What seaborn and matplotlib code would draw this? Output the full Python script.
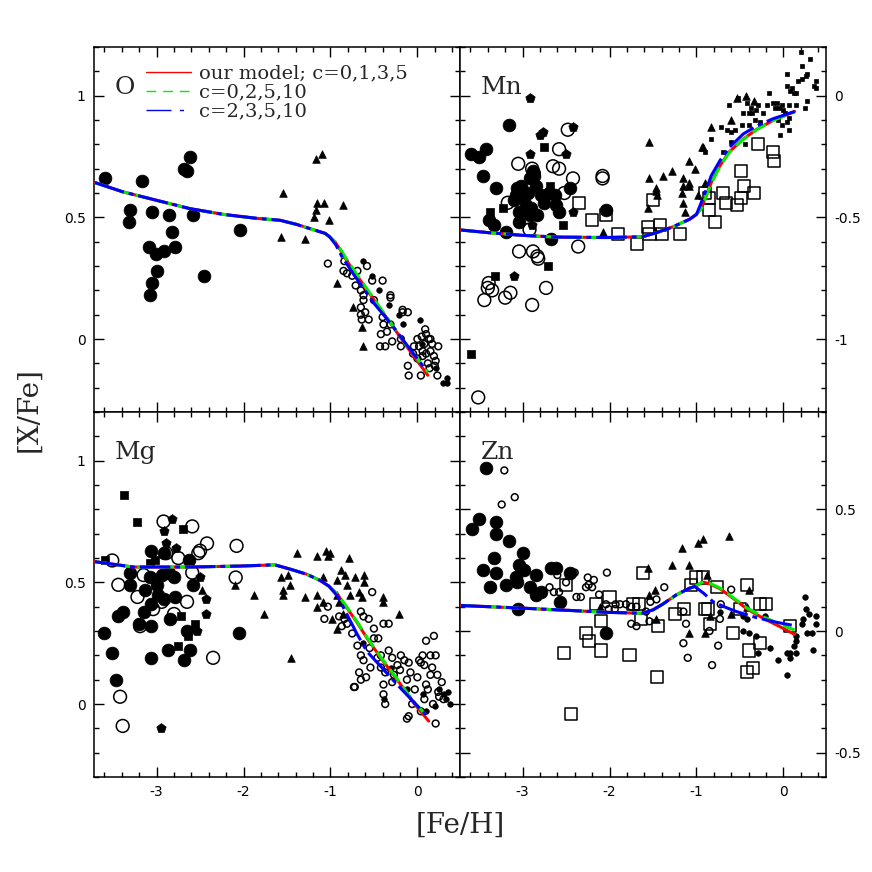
import matplotlib
matplotlib.use("Agg")
import matplotlib.pyplot as plt
import seaborn as sns
from matplotlib.lines import Line2D
from matplotlib.ticker import MultipleLocator, FormatStrFormatter

# ---------------- data ----------------
# x = [Fe/H], y = [X/Fe]

# ---- O ----
o_big_fill = [(-3.59, 0.66), (-3.17, 0.65), (-3.31, 0.53), (-3.32, 0.48), (-3.05, 0.52),
              (-2.86, 0.51), (-2.82, 0.44), (-3.09, 0.38), (-3.01, 0.35), (-2.91, 0.36),
              (-2.79, 0.38), (-2.99, 0.28), (-3.05, 0.23), (-3.08, 0.18), (-2.68, 0.70),
              (-2.65, 0.69), (-2.62, 0.75), (-2.58, 0.51), (-2.46, 0.26), (-2.04, 0.45)]
o_tri = [(-1.55, 0.60), (-1.57, 0.42), (-1.29, 0.41), (-1.17, 0.74), (-1.10, 0.76),
         (-1.15, 0.56), (-1.07, 0.56), (-1.17, 0.53), (-1.19, 0.50), (-1.02, 0.49),
         (-0.85, 0.55), (-0.92, 0.23), (-0.74, 0.13), (-0.64, 0.05), (-0.63, -0.03)]
o_small_open = [(-1.03, 0.31), (-0.84, 0.32), (-0.85, 0.28), (-0.81, 0.27), (-0.75, 0.26),
                (-0.58, 0.30), (-0.69, 0.28), (-0.52, 0.24), (-0.40, 0.24), (-0.71, 0.22),
                (-0.65, 0.20), (-0.62, 0.18), (-0.62, 0.16), (-0.31, 0.18), (-0.50, 0.16),
                (-0.65, 0.13), (-0.60, 0.11), (-0.65, 0.10), (-0.56, 0.08), (-0.64, 0.08),
                (-0.40, 0.09), (-0.39, 0.06), (-0.31, 0.06), (-0.42, 0.02), (-0.35, 0.03),
                (-0.29, -0.01), (-0.43, -0.03), (-0.37, -0.03), (-0.19, 0.00), (-0.19, -0.03),
                (-0.17, 0.11), (-0.11, 0.11), (-0.04, -0.03), (0.00, 0.00), (0.02, -0.03),
                (0.10, 0.02), (0.15, 0.00), (0.06, -0.05), (0.15, -0.05), (0.24, -0.03),
                (-0.11, -0.11), (-0.10, -0.15), (0.04, -0.15), (0.21, -0.09), (0.23, -0.15),
                (0.06, -0.07), (0.12, -0.10), (0.19, -0.07), (0.05, 0.01), (0.08, -0.02),
                (0.13, 0.00), (0.17, -0.02), (0.10, -0.06), (0.00, -0.08), (0.14, -0.12),
                (0.20, -0.11), (-0.05, -0.06), (0.09, 0.04), (-0.31, 0.17), (-0.17, 0.12)]
o_small_fill = [(-0.62, 0.32), (-0.52, 0.26), (-0.44, 0.20), (-0.33, 0.14), (-0.21, 0.10),
                (0.03, 0.08), (0.34, -0.16), (0.34, -0.18), (0.29, -0.18), (0.21, -0.12),
                (0.05, -0.02), (-0.16, 0.06)]

# ---- Mn ----
mn_big_fill = [(-3.59, -0.24), (-3.50, -0.25), (-3.42, -0.22), (-3.16, -0.12), (-3.45, -0.33),
               (-3.30, -0.38), (-3.06, -0.38), (-3.02, -0.37), (-3.08, -0.41), (-3.00, -0.42),
               (-2.94, -0.40), (-2.85, -0.37), (-2.79, -0.41), (-3.04, -0.48), (-2.92, -0.49),
               (-2.83, -0.49), (-3.04, -0.52), (-3.39, -0.51), (-3.33, -0.53), (-3.19, -0.56),
               (-2.67, -0.59), (-2.63, -0.41), (-2.62, -0.45), (-2.58, -0.48), (-2.45, -0.38),
               (-2.04, -0.47), (-2.87, -0.33), (-2.88, -0.31), (-2.92, -0.34), (-2.96, -0.45),
               (-2.90, -0.46), (-3.10, -0.43), (-2.75, -0.44), (-2.70, -0.40)]
mn_big_open = [(-3.05, -0.28), (-2.89, -0.30), (-2.65, -0.29), (-2.58, -0.30), (-2.58, -0.22),
               (-2.48, -0.14), (-2.42, -0.34), (-2.52, -0.40), (-3.17, -0.44), (-2.92, -0.55),
               (-3.04, -0.64), (-2.88, -0.64), (-2.83, -0.66), (-2.82, -0.67), (-2.36, -0.62),
               (-2.08, -0.33), (-2.08, -0.34), (-2.73, -0.79), (-2.89, -0.86), (-3.14, -0.81),
               (-3.20, -0.83), (-3.39, -0.77), (-3.40, -0.79), (-3.35, -0.80), (-3.44, -0.84),
               (-3.51, -1.24), (-2.87, -0.32)]
mn_sq_fill = [(-2.75, -0.21), (-2.68, -0.37), (-3.22, -0.46), (-3.37, -0.48), (-2.54, -0.53),
              (-2.71, -0.70), (-3.32, -0.74), (-3.59, -1.06)]
mn_pent = [(-2.92, -0.01), (-2.80, -0.16), (-2.77, -0.15), (-2.42, -0.13), (-2.92, -0.24),
           (-2.50, -0.24), (-2.42, -0.48), (-3.10, -0.74), (-2.89, -0.53)]
mn_sq_open = [(-2.35, -0.44), (-2.20, -0.51), (-2.04, -0.49), (-1.90, -0.57), (-1.68, -0.61),
              (-1.56, -0.54), (-1.54, -0.57), (-1.42, -0.53), (-1.40, -0.57), (-1.19, -0.57),
              (-1.50, -0.43), (-0.90, -0.40), (-0.85, -0.42), (-0.85, -0.47), (-0.79, -0.52),
              (-0.69, -0.40), (-0.66, -0.44), (-0.53, -0.45), (-0.49, -0.42), (-0.45, -0.37),
              (-0.49, -0.31), (-0.34, -0.40), (-0.29, -0.20), (-0.12, -0.23), (-0.11, -0.27)]
mn_tri = [(-1.55, -0.19), (-1.55, -0.34), (-1.38, -0.33), (-1.28, -0.31), (-1.46, -0.38),
          (-1.46, -0.39), (-1.45, -0.41), (-1.56, -0.46), (-2.08, -0.56), (-1.16, -0.34),
          (-1.15, -0.37), (-1.09, -0.36), (-1.08, -0.37), (-1.17, -0.40), (-1.15, -0.44),
          (-1.13, -0.48), (-1.09, -0.27), (-1.02, -0.30), (-0.98, -0.41), (-0.92, -0.21),
          (-0.90, -0.36), (-0.83, -0.13), (-0.60, -0.10), (-0.43, 0.00), (-0.34, -0.02),
          (-0.94, -0.21), (-0.53, -0.01)]
mn_sq_small = [(0.20, 0.18), (0.31, 0.15), (0.21, 0.12), (0.27, 0.09), (0.26, 0.08),
               (0.04, 0.09), (0.17, 0.06), (0.21, 0.07), (0.37, 0.06), (0.35, 0.04),
               (0.38, 0.03), (0.04, 0.04), (0.08, 0.02), (0.12, 0.01), (0.15, 0.01),
               (0.10, 0.03), (-0.17, 0.01), (0.27, -0.02), (0.25, -0.05), (0.15, -0.04),
               (0.07, -0.04), (-0.29, -0.04), (-0.19, -0.04), (-0.12, -0.03), (-0.07, -0.03),
               (-0.05, -0.05), (-0.10, -0.05), (-0.02, -0.04), (0.00, -0.06), (0.02, -0.07),
               (0.06, -0.09), (0.04, -0.11), (-0.62, -0.04), (-0.52, -0.01), (-0.42, -0.03),
               (-0.37, -0.05), (-0.46, -0.07), (-0.40, -0.07), (-0.36, -0.07), (-0.31, -0.06),
               (-0.23, -0.07), (-0.72, -0.13), (-0.65, -0.14), (-0.60, -0.15), (-0.56, -0.14),
               (-0.48, -0.12), (-0.39, -0.12), (-0.33, -0.10), (-0.27, -0.11), (-0.06, -0.10),
               (-0.02, -0.12), (0.06, -0.14), (-0.04, -0.16), (-0.83, -0.18), (-0.90, -0.23),
               (-0.70, -0.23), (-0.60, -0.19), (-0.44, -0.20)]

# ---- Mg ----
mg_big_fill = [(-3.31, 0.54), (-3.31, 0.49), (-3.39, 0.38), (-3.44, 0.36), (-3.60, 0.29),
               (-3.51, 0.21), (-3.47, 0.10), (-3.06, 0.63), (-2.92, 0.62), (-3.08, 0.52),
               (-3.00, 0.49), (-2.94, 0.53), (-2.86, 0.54), (-2.80, 0.52), (-3.07, 0.41),
               (-3.15, 0.38), (-3.20, 0.33), (-3.06, 0.32), (-2.85, 0.35), (-2.87, 0.22),
               (-3.06, 0.19), (-2.69, 0.18), (-2.62, 0.22), (-2.65, 0.30), (-2.58, 0.49),
               (-2.92, 0.43), (-2.79, 0.44), (-2.05, 0.29), (-2.63, 0.59), (-3.13, 0.47),
               (-2.98, 0.45)]
mg_big_open = [(-3.51, 0.59), (-3.44, 0.49), (-3.22, 0.44), (-3.15, 0.53), (-2.92, 0.75),
               (-2.89, 0.62), (-2.75, 0.60), (-2.59, 0.73), (-2.59, 0.54), (-2.52, 0.62),
               (-2.42, 0.66), (-2.08, 0.65), (-2.09, 0.52), (-3.04, 0.39), (-2.94, 0.42),
               (-2.65, 0.42), (-2.80, 0.37), (-3.19, 0.32), (-3.42, 0.03), (-3.39, -0.09),
               (-2.35, 0.19), (-2.50, 0.63)]
mg_sq_fill = [(-3.37, 0.86), (-3.23, 0.75), (-2.70, 0.72), (-3.59, 0.59), (-3.08, 0.58),
              (-3.02, 0.59), (-2.72, 0.36), (-2.75, 0.24), (-2.56, 0.33), (-2.64, 0.28)]
mg_pent = [(-2.82, 0.76), (-2.92, 0.71), (-2.89, 0.66), (-2.78, 0.64), (-2.50, 0.52),
           (-2.43, 0.43), (-2.43, 0.37), (-2.54, 0.30), (-2.95, -0.10)]
mg_tri = [(-2.10, 0.49), (-2.48, 0.47), (-1.88, 0.45), (-1.76, 0.37), (-1.57, 0.52),
          (-1.49, 0.53), (-1.47, 0.49), (-1.55, 0.47), (-1.55, 0.45), (-1.38, 0.62),
          (-1.29, 0.44), (-1.15, 0.61), (-1.05, 0.63), (-1.03, 0.61), (-1.00, 0.62),
          (-1.15, 0.45), (-1.16, 0.40), (-1.09, 0.42), (-1.08, 0.52), (-0.92, 0.51),
          (-0.88, 0.55), (-0.83, 0.53), (-0.79, 0.60), (-0.72, 0.52), (-0.61, 0.53),
          (-0.61, 0.50), (-0.92, 0.45), (-0.90, 0.42), (-0.92, 0.31), (-0.81, 0.49),
          (-0.77, 0.45), (-0.67, 0.46), (-0.40, 0.44), (-0.39, 0.42), (-0.21, 0.37),
          (-1.45, 0.19), (-0.98, 0.35), (-0.64, 0.44), (-0.85, 0.37)]
mg_small_open = [(-1.03, 0.40), (-1.07, 0.35), (-0.90, 0.36), (-0.84, 0.35), (-0.81, 0.33),
                 (-0.87, 0.32), (-0.75, 0.29), (-0.65, 0.38), (-0.62, 0.36), (-0.56, 0.35),
                 (-0.52, 0.46), (-0.50, 0.27), (-0.39, 0.33), (-0.33, 0.33), (-0.69, 0.24),
                 (-0.65, 0.20), (-0.62, 0.18), (-0.67, 0.13), (-0.59, 0.11), (-0.72, 0.07),
                 (-0.46, 0.19), (-0.42, 0.15), (-0.37, 0.13), (-0.39, 0.08), (-0.37, 0.00),
                 (-0.29, 0.19), (-0.23, 0.16), (-0.15, 0.18), (-0.10, 0.17), (0.02, 0.18),
                 (0.06, 0.20), (0.15, 0.20), (0.08, 0.16), (0.17, 0.15), (0.21, 0.20),
                 (0.10, 0.26), (0.19, 0.28), (-0.12, -0.06), (0.04, -0.03), (0.21, -0.08),
                 (-0.73, 0.07), (-0.65, 0.10), (-0.54, 0.15), (-0.39, 0.04), (-0.29, 0.09),
                 (-0.19, 0.20), (0.04, 0.17), (0.23, 0.12), (0.25, 0.03), (-0.10, -0.05),
                 (-0.06, 0.00), (-0.42, 0.20), (-0.50, 0.31), (-0.27, 0.12), (-0.12, 0.10),
                 (-0.03, 0.06), (0.12, 0.06), (0.00, 0.11), (0.15, 0.12), (0.08, 0.02),
                 (-0.20, 0.14), (-0.08, 0.13), (0.28, 0.09), (0.30, 0.02), (-0.33, 0.22),
                 (0.10, 0.08), (0.18, 0.00), (0.24, 0.05), (-0.45, 0.27), (-0.55, 0.23)]
mg_small_fill = [(0.37, 0.00), (0.35, 0.05), (0.31, 0.04), (-0.12, 0.06), (-0.38, 0.02),
                 (0.06, 0.04), (0.25, 0.06), (0.20, -0.01), (-0.62, 0.25), (-0.30, 0.15),
                 (0.10, -0.03), (0.33, 0.02)]

# ---- Zn ----
zn_big_fill = [(-3.42, 0.67), (-3.58, 0.42), (-3.50, 0.46), (-3.30, 0.45), (-3.30, 0.40),
               (-3.16, 0.37), (-3.00, 0.32), (-3.33, 0.30), (-3.46, 0.25), (-3.31, 0.24),
               (-3.04, 0.27), (-2.98, 0.25), (-3.07, 0.22), (-3.06, 0.20), (-3.37, 0.18),
               (-3.19, 0.19), (-2.92, 0.18), (-2.85, 0.23), (-2.85, 0.15), (-2.79, 0.16),
               (-2.67, 0.26), (-2.62, 0.26), (-2.57, 0.12), (-2.45, 0.24), (-3.05, 0.09),
               (-2.04, -0.01)]
zn_small_open = [(-3.21, 0.66), (-3.09, 0.55), (-3.24, 0.52), (-2.69, 0.18), (-2.64, 0.16),
                 (-2.58, 0.16), (-2.60, 0.23), (-2.40, 0.24), (-2.50, 0.20), (-2.38, 0.14),
                 (-2.33, 0.14), (-2.27, 0.18), (-2.24, 0.19), (-2.18, 0.21), (-2.20, 0.18),
                 (-2.25, 0.22), (-2.03, 0.24), (-2.04, 0.11), (-1.93, 0.11), (-1.88, 0.11),
                 (-2.01, 0.09), (-1.94, 0.09), (-1.75, 0.10), (-1.69, 0.10), (-1.75, 0.03),
                 (-1.69, 0.02), (-1.58, 0.08), (-1.54, 0.04), (-1.46, 0.13), (-1.37, 0.18),
                 (-1.15, 0.08), (-1.12, 0.03), (-1.15, -0.05), (-1.10, -0.11), (-0.85, 0.00),
                 (-0.75, -0.06), (-0.82, -0.14), (-0.73, 0.05), (-0.72, 0.11), (-1.81, 0.11),
                 (-2.12, 0.15), (-1.53, 0.12), (-0.60, 0.17)]
zn_small_fill = [(-0.46, 0.00), (-0.39, -0.01), (-0.31, -0.02), (-0.15, -0.07), (-0.06, -0.12),
                 (0.04, -0.18), (0.04, -0.09), (0.08, -0.11), (0.14, -0.04), (0.15, -0.09),
                 (0.25, 0.14), (0.26, 0.09), (0.29, 0.07), (0.23, 0.05), (0.21, 0.03),
                 (0.27, -0.01), (0.33, -0.01), (0.34, -0.08), (0.37, 0.06), (0.38, 0.03),
                 (-0.42, 0.05), (-0.46, 0.06), (-0.21, 0.06), (-0.29, -0.09), (0.08, -0.09),
                 (0.15, -0.02), (0.12, -0.06), (-0.73, 0.08)]
zn_ast = [(-2.92, 0.57), (-3.50, 0.44), (-2.93, 0.40), (-2.70, 0.39), (-2.42, 0.40),
          (-2.53, 0.35), (-2.45, 0.30), (-2.55, 0.28), (-2.47, 0.28), (-2.49, 0.26),
          (-2.27, 0.28), (-2.16, 0.14), (-2.00, 0.05), (-2.09, -0.11), (-2.65, -0.01),
          (-2.62, -0.04), (-2.74, -0.09), (-2.82, -0.12), (-2.63, -0.11), (-2.51, -0.13),
          (-1.82, 0.27), (-1.71, 0.23), (-1.65, -0.13), (-1.81, -0.17), (-1.70, -0.19),
          (-1.50, -0.04), (-1.49, -0.15), (-1.50, 0.05), (-1.52, 0.02), (-1.32, 0.20),
          (-1.00, 0.29), (-1.01, -0.04)]
zn_sq_open = [(-1.62, 0.24), (-2.50, 0.19), (-2.15, 0.11), (-2.00, 0.14), (-2.10, 0.04),
              (-2.27, -0.01), (-2.24, -0.04), (-2.10, -0.08), (-2.52, -0.09), (-1.77, -0.10),
              (-2.44, -0.34), (-1.64, 0.05), (-1.73, 0.11), (-1.66, 0.11), (-1.44, 0.02),
              (-1.45, -0.19), (-1.25, 0.07), (-1.14, 0.09), (-1.06, 0.19), (-1.00, 0.22),
              (-0.92, 0.22), (-0.90, 0.09), (-0.87, 0.09), (-0.76, 0.18), (-0.84, 0.03),
              (-0.58, -0.01), (-0.42, 0.19), (-0.27, 0.11), (-0.20, 0.11), (-0.39, -0.08),
              (-0.27, -0.05), (-0.42, -0.17), (-0.35, -0.15), (0.08, 0.02), (-0.50, 0.09)]
zn_tri = [(-1.56, 0.26), (-1.17, 0.34), (-0.98, 0.36), (-0.93, 0.38), (-0.63, 0.39),
          (-1.28, 0.27), (-1.08, 0.27), (-1.54, 0.15), (-1.48, 0.17), (-2.11, 0.10),
          (-1.46, 0.05), (-1.09, -0.01), (-0.90, -0.01), (-0.84, 0.06), (-0.60, 0.07),
          (-0.39, 0.17), (-0.42, 0.10), (-0.88, 0.23)]

# ---- model curves (red: c=0,1,3,5 ; green: c=0,2,5,10 ; blue: c=2,3,5,10) ----
o_common = [(-3.71, 0.643), (-3.39, 0.605), (-3.00, 0.570), (-2.62, 0.536), (-2.23, 0.512),
            (-1.85, 0.496), (-1.58, 0.488), (-1.39, 0.471), (-1.15, 0.444), (-1.06, 0.434),
            (-1.01, 0.420)]
o_red = [(-0.94, 0.395), (-0.89, 0.368), (-0.81, 0.320), (-0.69, 0.258), (-0.50, 0.161),
         (-0.31, 0.065), (-0.12, -0.032), (0.12, -0.149)]
o_green = [(-0.94, 0.398), (-0.89, 0.372), (-0.81, 0.325), (-0.69, 0.262), (-0.50, 0.165),
           (-0.31, 0.068), (-0.12, -0.028), (0.12, -0.135)]
o_blue = [(-0.94, 0.388), (-0.87, 0.340), (-0.73, 0.264), (-0.50, 0.147), (-0.31, 0.065),
          (-0.12, -0.025), (0.10, -0.128)]

mn_common = [(-3.71, -0.552), (-3.39, -0.563), (-3.00, -0.574), (-2.62, -0.581), (-2.04, -0.583),
             (-1.62, -0.580), (-1.46, -0.563), (-1.27, -0.539), (-1.08, -0.508), (-1.00, -0.488)]
mn_red = [(-0.94, -0.460), (-0.89, -0.412), (-0.83, -0.357), (-0.73, -0.288), (-0.62, -0.230),
          (-0.46, -0.178), (-0.31, -0.139), (-0.12, -0.102), (0.13, -0.065)]
mn_green = [(-0.94, -0.462), (-0.89, -0.415), (-0.83, -0.360), (-0.73, -0.290), (-0.62, -0.232),
            (-0.46, -0.180), (-0.31, -0.140), (-0.12, -0.102), (0.13, -0.067)]
mn_blue = [(-0.96, -0.453), (-0.90, -0.398), (-0.83, -0.329), (-0.73, -0.267), (-0.62, -0.212),
           (-0.46, -0.157), (-0.31, -0.125), (-0.12, -0.095), (0.13, -0.065)]

mg_common = [(-3.71, 0.585), (-3.27, 0.563), (-2.62, 0.563), (-2.04, 0.567), (-1.64, 0.572),
             (-1.46, 0.554), (-1.27, 0.533), (-1.12, 0.508), (-1.02, 0.485)]
mg_red = [(-0.92, 0.450), (-0.81, 0.395), (-0.69, 0.333), (-0.58, 0.271), (-0.42, 0.189),
          (-0.23, 0.099), (-0.04, 0.003), (0.13, -0.070)]
mg_green = [(-0.92, 0.452), (-0.81, 0.398), (-0.69, 0.336), (-0.58, 0.274), (-0.42, 0.192),
            (-0.23, 0.102), (-0.04, 0.008), (0.10, -0.045)]
mg_blue = [(-0.92, 0.444), (-0.83, 0.382), (-0.69, 0.285), (-0.58, 0.216), (-0.42, 0.154),
           (-0.23, 0.079), (0.10, -0.045)]

zn_common = [(-3.71, 0.105), (-3.00, 0.094), (-2.42, 0.084), (-2.04, 0.077), (-1.62, 0.073),
             (-1.50, 0.087), (-1.39, 0.110), (-1.23, 0.149), (-1.08, 0.176), (-1.02, 0.183)]
zn_red = [(-0.92, 0.201), (-0.85, 0.194), (-0.73, 0.174), (-0.58, 0.135), (-0.42, 0.091),
          (-0.23, 0.052), (-0.04, 0.018), (0.13, -0.014)]
zn_green = [(-0.92, 0.203), (-0.85, 0.197), (-0.73, 0.177), (-0.58, 0.138), (-0.42, 0.095),
            (-0.23, 0.058), (-0.04, 0.028), (0.13, 0.004)]
zn_blue = [(-0.92, 0.156), (-0.81, 0.121), (-0.69, 0.101), (-0.54, 0.080), (-0.31, 0.055),
           (-0.08, 0.036), (0.13, 0.022)]

legend_labels = ["our model; c=0,1,3,5", "c=0,2,5,10", "c=2,3,5,10"]

# ---------------- plotting ----------------
sns.set_theme(style="ticks")
plt.rcParams["font.family"] = ["DejaVu Sans"]
plt.rcParams["axes.unicode_minus"] = False

fig = plt.figure(figsize=(8.72, 8.72), dpi=100)
axes = fig.subplots(2, 2, sharex=True, gridspec_kw=dict(hspace=0, wspace=0))
fig.subplots_adjust(left=0.1078, right=0.9472, top=0.9461, bottom=0.1089)


def pts(ax, data, marker, s, filled=True, lw=1.1):
    xs = [p[0] for p in data]
    ys = [p[1] for p in data]
    if filled:
        sns.scatterplot(x=xs, y=ys, ax=ax, marker=marker, s=s, color="black",
                        edgecolor="black", linewidth=0.5, zorder=2)
    else:
        sns.scatterplot(x=xs, y=ys, ax=ax, marker=marker, s=s, facecolor="none",
                        edgecolor="black", linewidth=lw, zorder=2)


def model(ax, common, red, green, blue):
    for tail, col, ls in [(red, "#ff0000", "-"),
                          (green, "#00ee00", (0, (5, 2))),
                          (blue, "#0000ff", (0, (10, 1.6, 1.6, 1.6)))]:
        line = common + tail
        sns.lineplot(x=[p[0] for p in line], y=[p[1] for p in line], ax=ax,
                     sort=False, estimator=None, color=col, linewidth=2.2,
                     linestyle=ls, zorder=5)


ax_o, ax_mn = axes[0]
ax_mg, ax_zn = axes[1]

# O
pts(ax_o, o_big_fill, "o", 85)
pts(ax_o, o_tri, "^", 30)
pts(ax_o, o_small_open, "o", 24, filled=False, lw=1.1)
pts(ax_o, o_small_fill, "o", 16)
model(ax_o, o_common, o_red, o_green, o_blue)

# Mn
pts(ax_mn, mn_big_fill, "o", 85)
pts(ax_mn, mn_big_open, "o", 85, filled=False, lw=1.1)
pts(ax_mn, mn_sq_fill, "s", 30)
pts(ax_mn, mn_pent, "p", 50)
pts(ax_mn, mn_sq_open, "s", 75, filled=False, lw=1.1)
pts(ax_mn, mn_tri, "^", 30)
pts(ax_mn, mn_sq_small, "s", 12)
model(ax_mn, mn_common, mn_red, mn_green, mn_blue)

# Mg
pts(ax_mg, mg_big_fill, "o", 85)
pts(ax_mg, mg_big_open, "o", 85, filled=False, lw=1.1)
pts(ax_mg, mg_sq_fill, "s", 30)
pts(ax_mg, mg_pent, "p", 50)
pts(ax_mg, mg_tri, "^", 30)
pts(ax_mg, mg_small_open, "o", 24, filled=False, lw=1.1)
pts(ax_mg, mg_small_fill, "o", 16)
model(ax_mg, mg_common, mg_red, mg_green, mg_blue)

# Zn
pts(ax_zn, zn_big_fill, "o", 85)
pts(ax_zn, zn_small_open, "o", 24, filled=False, lw=1.1)
pts(ax_zn, zn_small_fill, "o", 16)
pts(ax_zn, zn_ast, (8, 2, 0), 55, filled=False, lw=1.3)
pts(ax_zn, zn_sq_open, "s", 75, filled=False, lw=1.1)
pts(ax_zn, zn_tri, "^", 30)
model(ax_zn, zn_common, zn_red, zn_green, zn_blue)

ylims = {ax_o: (-0.3, 1.2), ax_mn: (-1.3, 0.2), ax_mg: (-0.3, 1.2), ax_zn: (-0.6, 0.9)}
names = {ax_o: "O", ax_mn: "Mn", ax_mg: "Mg", ax_zn: "Zn"}

for ax in [ax_o, ax_mn, ax_mg, ax_zn]:
    ax.set_xlim(-3.72, 0.49)
    ax.set_ylim(*ylims[ax])
    ax.xaxis.set_major_locator(MultipleLocator(1))
    ax.xaxis.set_minor_locator(MultipleLocator(0.2))
    ax.yaxis.set_major_locator(MultipleLocator(0.5))
    ax.yaxis.set_minor_locator(MultipleLocator(0.1))
    ax.yaxis.set_major_formatter(FormatStrFormatter("%g"))
    ax.xaxis.set_major_formatter(FormatStrFormatter("%g"))
    ax.tick_params(which="both", direction="in", top=True, bottom=True,
                   left=True, right=True, width=1.0, colors="black",
                   labelsize=10, pad=6)
    ax.tick_params(which="major", length=7)
    ax.tick_params(which="minor", length=3.5)
    for sp in ax.spines.values():
        sp.set_linewidth(1.1)
        sp.set_color("black")
    ax.set_xlabel("")
    ax.set_ylabel("")
    ax.text(0.057, 0.872, names[ax], transform=ax.transAxes, fontsize=18,
            family="DejaVu Serif", va="baseline", ha="left")

for ax in [ax_mn, ax_zn]:
    ax.tick_params(axis="y", labelleft=False, labelright=True)
for ax in [ax_o, ax_mn]:
    ax.tick_params(axis="x", labelbottom=False)

handles = [Line2D([], [], color="#ff0000", lw=1.0),
           Line2D([], [], color="#00ee00", lw=1.0, linestyle=(0, (7, 5))),
           Line2D([], [], color="#0000ff", lw=1.0, linestyle=(0, (18, 6, 3, 6)))]
ax_o.legend(handles, legend_labels, loc="upper left", bbox_to_anchor=(0.142, 0.952),
            frameon=False, prop={"family": "DejaVu Serif", "size": 14},
            handlelength=2.3, handletextpad=0.45, labelspacing=0.05,
            borderpad=0, borderaxespad=0)

fig.text(0.528, 0.054, "[Fe/H]", ha="center", va="center", fontsize=20,
         family="DejaVu Serif")
fig.text(0.033, 0.53, "[X/Fe]", ha="center", va="center", fontsize=20,
         family="DejaVu Serif", rotation=90)

fig.savefig("out.png", dpi=100)
